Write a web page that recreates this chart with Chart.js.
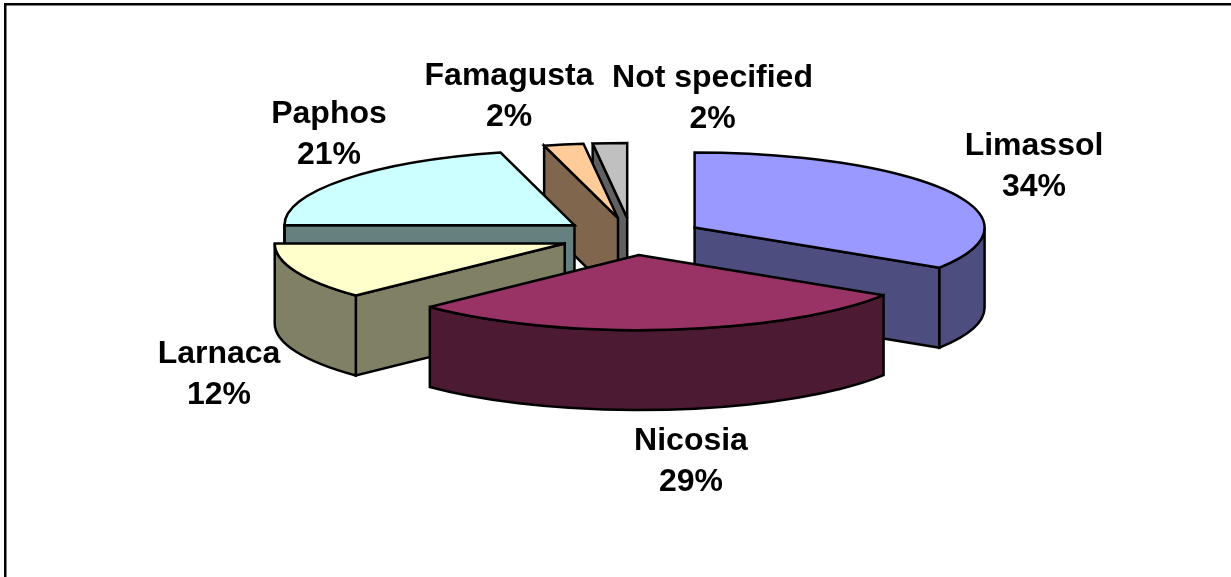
<!DOCTYPE html>
<html>
<head>
<meta charset="utf-8">
<style>html,body{margin:0;padding:0;background:#fff}canvas{display:block}</style>
<script src="https://cdn.jsdelivr.net/npm/chart.js@4/dist/chart.umd.js"></script>
</head>
<body>
<canvas id="c" width="1231" height="577"></canvas>
<script>
const categories = ['Limassol', 'Nicosia', 'Larnaca', 'Paphos', 'Famagusta', 'Not specified'];
const shares = [34.0, 28.8, 12.2, 20.9, 2.2, 1.9];
const topColors = ['#9999FF', '#993366', '#FFFFCC', '#CCFFFF', '#FFCC99', '#C0C0C0'];
const wallColors = ['#4D4D80', '#4D1A33', '#808066', '#668080', '#80664D', '#606060'];

// Look of the tilted pie
const view = { cx: 631.5, cy: 236.5, tilt: 75 / 290, depth: 80, explode: 72, radius: 290 };
const paintOrder = [5, 4, 3, 0, 2, 1];
const labelPlace = [[1034, 155], [691, 450], [219, 363], [329, 123], [509, 85], [712.5, 87]];

const pie3d = {
  id: 'pie3d',
  beforeDatasetDraw(chart) {
    const ctx = chart.ctx;
    const arcs = chart.getDatasetMeta(0).data;
    const k = view.tilt, d = view.depth;
    ctx.save();
    ctx.strokeStyle = '#000';
    ctx.lineWidth = 2.5;
    ctx.lineJoin = 'miter';
    ctx.miterLimit = 3;
    paintOrder.forEach(i => {
      const el = arcs[i];
      const off = view.explode;
      const r = el.outerRadius;
      const a0 = el.startAngle, a1 = el.endAngle, mid = (a0 + a1) / 2;
      const ax = view.cx + Math.cos(mid) * off;
      const ay = view.cy + Math.sin(mid) * off * k;
      const px = a => ax + Math.cos(a) * r;
      const py = a => ay + Math.sin(a) * r * k;
      const radial = a => {
        ctx.beginPath();
        ctx.moveTo(ax, ay);
        ctx.lineTo(px(a), py(a));
        ctx.lineTo(px(a), py(a) + d);
        ctx.lineTo(ax, ay + d);
        ctx.closePath();
        ctx.fillStyle = wallColors[i];
        ctx.fill();
        ctx.stroke();
      };
      if (Math.cos(a0) < -1e-6) radial(a0);
      if (Math.cos(a1) > 1e-6) radial(a1);
      const f0 = Math.max(a0, 0), f1 = Math.min(a1, Math.PI);
      if (f1 > f0) {
        ctx.beginPath();
        ctx.ellipse(ax, ay, r, r * k, 0, f0, f1);
        ctx.ellipse(ax, ay + d, r, r * k, 0, f1, f0, true);
        ctx.closePath();
        ctx.fillStyle = wallColors[i];
        ctx.fill();
        ctx.stroke();
      }
      // top face: the library's own arc, squashed and moved out
      ctx.save();
      ctx.translate(ax, ay);
      ctx.scale(1, k);
      ctx.translate(-el.x, -el.y);
      el.draw(ctx);
      ctx.restore();
      ctx.beginPath();
      ctx.moveTo(ax, ay);
      ctx.lineTo(px(a0), py(a0));
      ctx.ellipse(ax, ay, r, r * k, 0, a0, a1);
      ctx.closePath();
      ctx.stroke();
    });
    ctx.restore();
    return false;
  },
  afterDraw(chart) {
    const ctx = chart.ctx;
    const total = shares.reduce((s, v) => s + v, 0);
    ctx.save();
    ctx.fillStyle = '#000';
    ctx.fillRect(4, 3, 1227, 2.5);
    ctx.fillRect(4, 3, 2.5, 574);
    ctx.font = 'bold 32px "Liberation Sans", Arial, sans-serif';
    ctx.textAlign = 'center';
    ctx.textBaseline = 'alphabetic';
    categories.forEach((name, i) => {
      const [x, y] = labelPlace[i];
      ctx.fillText(name, x, y);
      ctx.fillText(Math.round(shares[i] / total * 100) + '%', x, y + 41);
    });
    ctx.restore();
  }
};

new Chart(document.getElementById('c'), {
  type: 'pie',
  data: {
    labels: categories,
    datasets: [{
      data: shares,
      backgroundColor: topColors,
      borderWidth: 0,
      clip: false
    }]
  },
  options: {
    responsive: false,
    animation: false,
    radius: view.radius,
    plugins: { legend: { display: false }, tooltip: { enabled: false } }
  },
  plugins: [pie3d]
});
</script>
</body>
</html>
